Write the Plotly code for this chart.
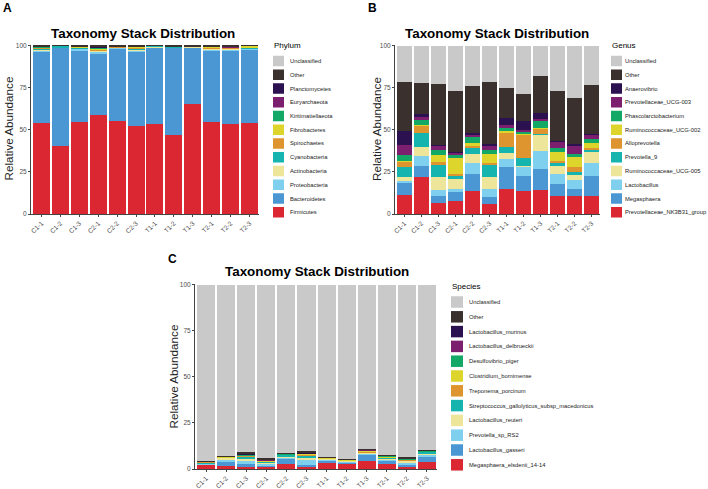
import plotly.graph_objects as go

W, H = 708, 489

samples = ["C1-1", "C1-2", "C1-3", "C2-1", "C2-2", "C2-3",
           "T1-1", "T1-2", "T1-3", "T2-1", "T2-2", "T2-3"]

# couleurs communes aux 3 panneaux (du bas vers le haut de la pile)
colors = ["#DA2731", "#4A97D4", "#7FD0EE", "#EDE69A", "#15B4AF", "#DE9530",
          "#DDD52C", "#14A866", "#7C1F6E", "#2B1150", "#3A302E", "#C9C9C9"]

# ---------------- A : Phylum ----------------
phylum_names = ["Firmicutes", "Bacteroidetes", "Proteobacteria", "Actinobacteria",
                "Cyanobacteria", "Spirochaetes", "Fibrobacteres", "Kiritimatiellaeota",
                "Euryarchaeota", "Planctomycetes", "Other", "Unclassified"]
firmicutes = [54.1, 40.6, 54.7, 58.7, 55.1, 52.4, 53.3, 46.9, 65.4, 54.7, 53.5, 54.3]
bacteroidetes = [41.8, 58.0, 42.5, 36.8, 42.9, 44.1, 45.3, 51.7, 33.2, 42.5, 43.7, 43.3]
proteobacteria = [1.3, 0.2, 0.8, 1.0, 0.6, 0.7, 0.4, 0.3, 0.3, 0.7, 0.6, 0.5]
actinobacteria = [0.3, 0.0, 0.4, 0.5, 0.3, 0.5, 0.2, 0.0, 0.3, 0.3, 0.4, 0.3]
cyanobacteria = [0.8, 1.0, 0.3, 0.3, 0.2, 0.3, 0.6, 0.5, 0.0, 0.3, 0.3, 0.2]
spirochaetes = [0.3, 0.0, 0.4, 0.6, 0.2, 0.6, 0.0, 0.0, 0.2, 0.3, 0.3, 0.3]
fibrobacteres = [0.2, 0.0, 0.4, 0.5, 0.3, 0.6, 0.0, 0.0, 0.2, 0.4, 0.3, 0.9]
kiritimatiellaeota = [0.5, 0.0, 0.1, 0.4, 0.0, 0.5, 0.0, 0.3, 0.0, 0.0, 0.0, 0.0]
euryarchaeota = [0.2, 0.0, 0.0, 0.1, 0.0, 0.0, 0.0, 0.0, 0.0, 0.0, 0.1, 0.0]
planctomycetes = [0.1, 0.0, 0.0, 0.5, 0.0, 0.0, 0.0, 0.0, 0.0, 0.0, 0.0, 0.0]
phylum_other = [0.4, 0.2, 0.4, 0.6, 0.4, 0.3, 0.2, 0.3, 0.4, 0.8, 0.8, 0.2]
phylum_uncl = [0.0, 0.0, 0.0, 0.0, 0.0, 0.0, 0.0, 0.0, 0.0, 0.0, 0.0, 0.0]
phylum_vals = [firmicutes, bacteroidetes, proteobacteria, actinobacteria, cyanobacteria,
               spirochaetes, fibrobacteres, kiritimatiellaeota, euryarchaeota,
               planctomycetes, phylum_other, phylum_uncl]

# ---------------- B : Genus ----------------
genus_names = ["Prevotellaceae_NK3B31_group", "Megasphaera", "Lactobacillus",
               "Ruminococcaceae_UCG-005", "Prevotella_9", "Alloprevotella",
               "Ruminococcaceae_UCG-002", "Phascolarctobacterium", "Prevotellaceae_UCG-003",
               "Anaerovibrio", "Other", "Unclassified"]
prevotellaceae_nk3b31 = [11.4, 21.9, 6.5, 7.5, 13.8, 6.1, 15.0, 13.8, 14.4, 10.4, 10.4, 10.8]
megasphaera = [7.3, 6.8, 3.9, 5.5, 10.0, 3.7, 13.1, 8.8, 12.4, 7.5, 4.6, 12.0]
lactobacillus = [1.0, 5.9, 4.0, 1.8, 6.3, 5.2, 4.4, 5.5, 10.6, 5.9, 5.3, 7.7]
ruminococcaceae_005 = [2.5, 5.4, 7.3, 6.1, 5.5, 6.7, 3.9, 0.6, 9.5, 4.9, 2.9, 6.5]
prevotella_9 = [5.6, 7.8, 7.4, 1.9, 3.4, 7.8, 3.6, 4.8, 0.5, 1.4, 2.0, 1.0]
alloprevotella = [3.3, 5.0, 2.0, 1.0, 1.4, 1.0, 8.4, 13.4, 3.4, 1.6, 2.9, 1.0]
ruminococcaceae_002 = [0.6, 0.3, 3.9, 9.3, 1.9, 5.1, 0.8, 0.3, 0.4, 4.9, 6.0, 2.9]
phascolarctobacterium = [3.3, 2.6, 3.0, 1.9, 3.6, 2.4, 2.0, 1.6, 4.1, 2.4, 1.5, 2.4]
prevotellaceae_003 = [5.9, 2.0, 2.7, 1.6, 1.5, 2.9, 1.6, 1.0, 0.8, 3.9, 5.3, 2.6]
anaerovibrio = [8.3, 1.4, 0.2, 0.4, 0.4, 0.4, 4.3, 5.3, 4.1, 0.4, 0.4, 0.5]
genus_other = [29.3, 18.7, 36.5, 35.8, 28.0, 36.8, 17.7, 16.0, 21.5, 29.7, 27.6, 29.0]
genus_uncl = [21.5, 22.2, 22.6, 27.2, 24.2, 21.9, 25.2, 28.9, 18.3, 27.0, 31.1, 23.6]
genus_vals = [prevotellaceae_nk3b31, megasphaera, lactobacillus, ruminococcaceae_005,
              prevotella_9, alloprevotella, ruminococcaceae_002, phascolarctobacterium,
              prevotellaceae_003, anaerovibrio, genus_other, genus_uncl]

# ---------------- C : Species ----------------
species_names = ["Megasphaera_elsdenii_14-14", "Lactobacillus_gasseri", "Prevotella_sp_RS2",
                 "Lactobacillus_reuteri", "Streptococcus_gallolyticus_subsp_macedonicus",
                 "Treponema_porcinum", "Clostridium_bornimense", "Desulfovibrio_piger",
                 "Lactobacillus_delbrueckii", "Lactobacillus_murinus", "Other", "Unclassified"]
m_elsdenii = [2.3, 1.8, 1.3, 1.5, 2.7, 0.9, 3.6, 2.5, 4.3, 2.7, 1.3, 4.0]
l_gasseri = [0.3, 2.2, 1.3, 0.4, 2.7, 1.1, 0.9, 1.1, 3.6, 1.8, 1.3, 2.7]
p_rs2 = [0.3, 1.4, 2.1, 1.0, 1.1, 3.4, 0.5, 0.4, 0.4, 0.7, 0.7, 1.3]
l_reuteri = [0.3, 0.7, 0.7, 0.4, 0.3, 0.7, 0.5, 0.5, 0.7, 0.5, 1.2, 0.5]
s_gallolyticus = [0.4, 0.2, 1.4, 0.7, 0.9, 1.4, 0.3, 0.2, 0.2, 0.3, 0.3, 0.9]
t_porcinum = [0.4, 0.0, 0.3, 0.2, 0.2, 0.3, 0.0, 0.1, 0.3, 0.2, 0.2, 0.1]
c_bornimense = [0.1, 0.3, 0.3, 0.2, 0.2, 0.4, 0.2, 0.3, 0.5, 0.5, 0.4, 0.2]
d_piger = [0.1, 0.0, 0.4, 0.4, 0.2, 0.3, 0.2, 0.0, 0.1, 0.4, 0.3, 0.4]
l_delbrueckii = [0.05, 0.0, 0.1, 0.1, 0.0, 0.1, 0.0, 0.0, 0.3, 0.0, 0.0, 0.0]
l_murinus = [0.05, 0.0, 0.3, 0.2, 0.0, 0.2, 0.0, 0.0, 0.3, 0.0, 0.0, 0.0]
species_other = [0.3, 0.3, 0.8, 0.7, 0.5, 0.8, 0.4, 0.4, 0.3, 0.7, 0.7, 0.4]
species_vals = [m_elsdenii, l_gasseri, p_rs2, l_reuteri, s_gallolyticus, t_porcinum,
                c_bornimense, d_piger, l_delbrueckii, l_murinus, species_other]
species_uncl = [round(100 - sum(v[i] for v in species_vals), 2) for i in range(len(samples))]
species_vals.append(species_uncl)

yticks = [0, 25, 50, 75, 100]


def px(x):
    return x / W


def py(y):
    return 1 - y / H


FONT = "Liberation Sans, Arial, sans-serif"

fig = go.Figure()

panels = [
    # noms, valeurs, axes, domaine x (px), domaine y (px), titre legende
    (phylum_names, phylum_vals, "x", "y", (31, 259), (45, 214), "Phylum"),
    (genus_names, genus_vals, "x2", "y2", (395, 600), (45, 214), "Genus"),
    (species_names, species_vals, "x3", "y3", (195, 437), (284, 469), "Species"),
]

for names, vals, xa, ya, _, _, _ in panels:
    for name, v, c in zip(names, vals, colors):
        fig.add_trace(go.Bar(x=samples, y=v, name=name, marker_color=c,
                             marker_line_width=0, xaxis=xa, yaxis=ya, showlegend=False))

axis_common = dict(showline=True, linecolor="#444", linewidth=1, ticks="outside",
                   ticklen=2, tickcolor="#444", tickwidth=1, showgrid=False, zeroline=False,
                   automargin=False,
                   tickfont=dict(family=FONT, size=6.5, color="#4D4D4D"))

layout_axes = {}
for i, (_, _, xa, ya, xd, yd, _) in enumerate(panels):
    sx = "" if i == 0 else str(i + 1)
    layout_axes["xaxis" + sx] = dict(domain=[px(xd[0]), px(xd[1])], anchor=ya,
                                     tickangle=-45, range=[-0.55, 11.5], **axis_common)
    layout_axes["yaxis" + sx] = dict(domain=[py(yd[1]), py(yd[0])], anchor=xa,
                                     range=[0, 100.3], tickvals=yticks, **axis_common)

fig.update_layout(**layout_axes)

annotations = []
shapes = []

# titres, lettres, titres d'axe y
titles = [(143, 33), (497, 33), (317, 271)]
letters = [("A", 7.5, 8.5), ("B", 372, 8.5), ("C", 172, 259)]
ytitles = [(7.5, 129), (376, 129), (172.5, 377)]
for (tx, ty), (lt, lx, ly), (yx, yy) in zip(titles, letters, ytitles):
    annotations.append(dict(text="<b>Taxonomy Stack Distribution</b>", x=px(tx), y=py(ty),
                            xref="paper", yref="paper", showarrow=False,
                            xanchor="center", yanchor="middle",
                            font=dict(family=FONT, size=13.4, color="black")))
    annotations.append(dict(text="<b>" + lt + "</b>", x=px(lx), y=py(ly),
                            xref="paper", yref="paper", showarrow=False,
                            xanchor="center", yanchor="middle",
                            font=dict(family=FONT, size=12, color="black")))
    annotations.append(dict(text="Relative Abundance", x=px(yx), y=py(yy), textangle=-90,
                            xref="paper", yref="paper", showarrow=False,
                            xanchor="center", yanchor="middle",
                            font=dict(family=FONT, size=11.7, color="#222")))

# legendes dessinees a la main (lignes plus serrees que la legende plotly)
legends = [
    # titre x, titre y, box x0, box x1, texte x, y premier, pas, hauteur
    (272, 45.5, 273, 284, 288, 61, 13.75, 10.5),
    (610, 45.5, 611, 622, 623, 61, 13.75, 10.5),
    (450, 286, 451, 463, 467, 302, 14.8, 11.5),
]
for (names, _, _, _, _, _, ltitle), (tx, ty, bx0, bx1, lx, y0, step, bh) in zip(panels, legends):
    annotations.append(dict(text=ltitle, x=px(tx), y=py(ty), xref="paper", yref="paper",
                            showarrow=False, xanchor="left", yanchor="middle",
                            font=dict(family=FONT, size=8, color="black")))
    for k, (name, c) in enumerate(zip(names[::-1], colors[::-1])):
        yc = y0 + k * step
        shapes.append(dict(type="rect", xref="paper", yref="paper",
                           x0=px(bx0), x1=px(bx1), y0=py(yc - bh / 2), y1=py(yc + bh / 2),
                           fillcolor=c, line_width=0))
        annotations.append(dict(text=name, x=px(lx), y=py(yc), xref="paper", yref="paper",
                                showarrow=False, xanchor="left", yanchor="middle",
                                font=dict(family=FONT, size=5.8, color="#222")))

fig.update_layout(barmode="stack", bargap=0.1, width=W, height=H,
                  margin=dict(l=0, r=0, t=0, b=0, autoexpand=False), plot_bgcolor="white",
                  paper_bgcolor="white", annotations=annotations, shapes=shapes)

fig.write_html("out.html", config={"displayModeBar": False},
               post_script="document.body.style.margin='0';document.body.style.overflow='hidden';")
